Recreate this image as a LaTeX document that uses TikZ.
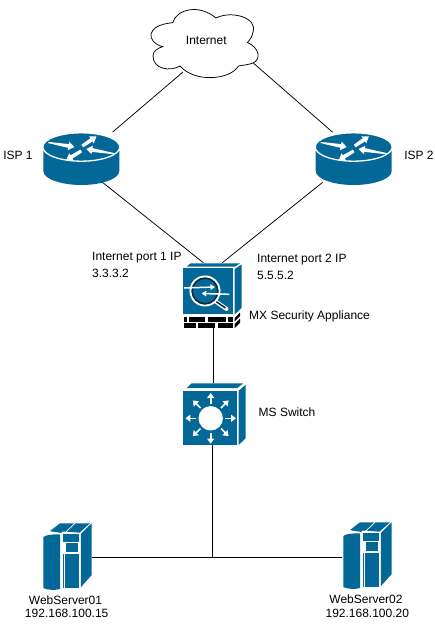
\documentclass[tikz,border=0pt]{standalone}
\usepackage{fontspec}
\setmainfont{Liberation Sans}
\usetikzlibrary{arrows.meta}
\definecolor{cisco}{HTML}{036897}
\definecolor{ringdark}{HTML}{0A2A3C}
\newcommand{\wedgearrow}[5]{%
  \path[fill=white,shift={(#1,#2)},rotate=#3]
    (0,-#5) -- (#4-6,-1.9) -- (#4-6,-4.3) -- (#4,0) -- (#4-6,4.3) -- (#4-6,1.9) -- (0,#5) -- cycle;}
\tikzset{
  link/.style={draw=black,line width=0.75pt},
  lbl/.style={font=\fontsize{12}{14}\selectfont,inner sep=0pt,text=black},
  lbll/.style={lbl,anchor=west},
  blue/.style={fill=cisco,draw=none},
  hub/.style={white,line width=1.6pt,-{Triangle[length=5pt,width=7pt]}},
  lens/.style={white,line width=1.5pt,-{Triangle[length=4.5pt,width=5.5pt]}},
  brick/.style={fill=black,draw=none},
  slot/.style={minimum width=0pt,minimum height=0pt,inner sep=0pt,draw=none},
  pics/router/.style={code={
    \path[blue] (-38,4) -- (-38,24) .. controls (-38,32) and (-20,38) .. (0,38)
      .. controls (20,38) and (38,32) .. (38,24) -- (38,4) -- cycle;
    \path[blue,draw=white,line width=1.3pt] (0,0) ellipse [x radius=38.5,y radius=14.2];
    \wedgearrow{-33}{-4.5}{-9.8}{26.4}{0.6}
    \wedgearrow{1}{-1}{34}{17}{1.6}
    \wedgearrow{33}{6.7}{170.5}{28.4}{0.6}
    \wedgearrow{0}{4}{211}{17.5}{1.6}
  }},
  pics/server/.style={code={
    \path[blue] (43.3,537) .. controls (46,534.5) and (56,534) .. (60,534.5) -- (60,589)
      .. controls (55,590.5) and (47,590) .. (43.3,588) -- cycle;
    \path[blue] (50,531) -- (60,523.3) -- (74,523.3) -- (65.5,531.7) -- (62,531.7) -- (61,533) .. controls (58,532) and (53,532) .. cycle;
    \path[blue] (67,531.7) -- (75.5,523.3) -- (90,523.3) -- (79.5,532.7) -- cycle;
    \path[blue] (63.3,534) -- (79.3,534) -- (79.3,588) -- (63.3,588) -- cycle;
    \path[fill=white] (63.3,541.7) rectangle (79.3,553.8);
    \path[blue] (65.6,543.4) rectangle (77.6,551.9);
    \path[fill=white] (64,553.8) rectangle (65,588);
    \path[blue] (80.8,534) -- (91.7,523.3) -- (91.7,575) -- (80.8,587.3) -- cycle;
  }}
}
\begin{document}
\begin{tikzpicture}[x=1pt,y=-1pt]
\useasboundingbox[fill=white] (0,0) rectangle (434,634);

% connector ends
\coordinate (cloudL) at (183,72);
\coordinate (cloudR) at (253.3,63);
\coordinate (isp1up) at (112.7,132);
\coordinate (isp2up) at (332.7,132.3);
\coordinate (isp1dn) at (101.7,181.7);
\coordinate (isp2dn) at (322.7,182.3);
\coordinate (mxL) at (203.3,262.7);
\coordinate (mxR) at (222.3,262.7);
\coordinate (mxB) at (213.3,323);
\coordinate (swT) at (213.3,383);
\coordinate (swB) at (212.7,445);
\coordinate (tee) at (212.7,557.5);
\coordinate (srv1) at (92.3,557.5);
\coordinate (srv2) at (342.3,557.5);

% connectors
\draw[link] (cloudL) -- (isp1up);
\draw[link] (cloudR) -- (isp2up);
\draw[link] (isp1dn) -- (mxL);
\draw[link] (isp2dn) -- (mxR);
\draw[link] (mxB) -- (swT);
\draw[link] (swB) -- (tee);
\draw[link] (srv1) -- (srv2);

% cloud
\draw[black,line width=0.75pt,fill=white] (172.7,22.7)
  .. controls (176,10) and (198,3) .. (216,18)
  .. controls (232,10) and (258,18) .. (253,32)
  .. controls (252,37) and (250,40) .. (247.5,42.5)
  .. controls (260,48) and (261,60) .. (253,63)
  .. controls (248,65) and (243,65) .. (238.5,66)
  .. controls (230,80) and (195,83) .. (180,66)
  .. controls (170,72) and (153,69) .. (153,56)
  .. controls (153,51) and (158,48) .. (162.7,46.7)
  .. controls (146,42) and (145,25) .. (172.7,22.7) -- cycle;
\node[lbl] (internet) at (206.3,40.5) {Internet};

% routers
\pic at (81.3,147) {router};
\pic at (353.7,147) {router};
\node[lbl] (isp1lbl) at (18,155.5) {ISP 1};
\node[lbl] (isp2lbl) at (419,155.5) {ISP 2};

% MX appliance
\path[blue] (186.7,266.7) -- (190.5,263.3) -- (240,263.3) -- (235,266.7) -- cycle;
\path[blue] (234.6,269) -- (241.5,264.5) -- (241.5,308) -- (234.6,314.5) -- cycle;
\path[blue] (183.3,268.3) rectangle (233.3,314);
\draw[white,line width=4pt,line cap=round] (215,301) -- (226.5,309);
\draw[ringdark,line width=1.5pt] (216,301.5) -- (225.5,308);
\path[fill=cisco,draw=white,line width=2pt] (205,291) circle (14.5);
\draw[ringdark,line width=1.5pt] (205,291) circle (12.8);
\draw[lens] (184,288) -- (215,287);
\draw[lens] (229.3,294.3) -- (201.7,293.5);
% bricks
\foreach \xa/\xb in {183.5/186.5,188.5/205,207.5/225.5,228/232.5}
  \path[brick] (\xa,316.5) rectangle (\xb,321.6);
\foreach \xa/\xb in {183.5/196,198/215,217.5/232.5}
  \path[brick] (\xa,323.2) rectangle (\xb,328.4);
\path[brick] (234.5,318) -- (240,312.5) -- (240,316) -- (234.5,321.5) -- cycle;
\path[brick] (234.5,324) -- (240,318.5) -- (240,323) -- (234.5,328.2) -- cycle;

% switch
\path[blue] (186.7,388.2) -- (191.7,383.3) -- (243.3,383.3) -- (237,388.2) -- cycle;
\path[blue] (238.7,390.7) -- (245.5,385) -- (245.5,438.3) -- (238.7,445) -- cycle;
\path[blue] (183.3,390.7) rectangle (237.3,445);
\path[fill=white] (210.7,418.3) circle (12.2);
\foreach \a in {0,45,...,315}
  \draw[hub] (210.7,418.3) ++(\a:14.5) -- ++(\a:10.8);

% servers
\pic at (0,0) {server};
\pic at (300,-1) {server};

% names for the icon boxes
\node[slot] (isp1) at (81.3,159) {};
\node[slot] (isp2) at (353.7,159) {};
\node[slot] (mx) at (212,296) {};
\node[slot] (sw) at (214,414) {};

% labels
\node[lbll] (p1a) at (92,258) {Internet port 1 IP};
\node[lbll] (p1b) at (92,273) {3.3.3.2};
\node[lbll] (p2a) at (257,260) {Internet port 2 IP};
\node[lbll] (p2b) at (257,275) {5.5.5.2};
\node[lbll] (mxlbl) at (249,316.5) {MX Security Appliance};
\node[lbll] (swlbl) at (258.5,412) {MS Switch};
\node[lbl] (s1a) at (65.5,600) {WebServer01};
\node[lbl] (s1b) at (66.7,613.5) {192.168.100.15};
\node[lbl] (s2a) at (366,599.5) {WebServer02};
\node[lbl] (s2b) at (367.3,613.5) {192.168.100.20};
\end{tikzpicture}
\end{document}
